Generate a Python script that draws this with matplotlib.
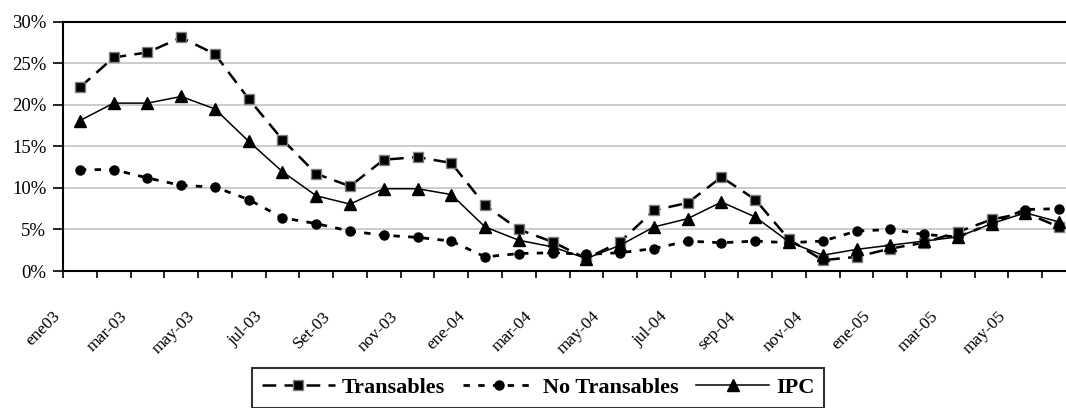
import matplotlib
matplotlib.use("Agg")
import matplotlib.pyplot as plt
import matplotlib.transforms as mtransforms
import numpy as np

months = ["ene03", "feb-03", "mar-03", "abr-03", "may-03", "jun-03", "jul-03", "ago-03",
          "Set-03", "oct-03", "nov-03", "dic-03", "ene-04", "feb-04", "mar-04", "abr-04",
          "may-04", "jun-04", "jul-04", "ago-04", "sep-04", "oct-04", "nov-04", "dic-04",
          "ene-05", "feb-05", "mar-05", "abr-05", "may-05", "jun-05"]

transables = [22.1, 25.7, 26.3, 28.1, 26.1, 20.7, 15.8, 11.7, 10.2, 13.4, 13.7, 13.0,
              7.9, 5.0, 3.5, 1.5, 3.5, 7.3, 8.2, 11.3, 8.6, 3.8, 1.3, 1.7,
              2.7, 3.4, 4.7, 6.2, 7.0, 5.3]
no_transables = [12.2, 12.2, 11.2, 10.3, 10.1, 8.6, 6.4, 5.7, 4.8, 4.3, 4.05, 3.6,
                 1.7, 2.1, 2.2, 2.0, 2.2, 2.7, 3.6, 3.4, 3.6, 3.4, 3.6, 4.8,
                 5.0, 4.4, 4.1, 5.7, 7.4, 7.5]
ipc = [18.1, 20.2, 20.2, 21.0, 19.5, 15.6, 11.95, 9.05, 8.05, 9.9, 9.9, 9.2,
       5.3, 3.7, 2.9, 1.5, 3.1, 5.3, 6.3, 8.3, 6.5, 3.5, 1.9, 2.6,
       3.1, 3.6, 4.1, 5.7, 7.0, 5.9]
yticks = [0, 5, 10, 15, 20, 25, 30]

plt.rcParams['font.family'] = ['Liberation Serif', 'DejaVu Serif']

fig = plt.figure(figsize=(10.66, 4.08), dpi=100)
W, H = 1066, 408
left_px, right_px, top_px, bot_px = 63, 1076, 21.7, 271
ax = fig.add_axes([left_px / W, 1 - bot_px / H, (right_px - left_px) / W, (bot_px - top_px) / H])

x = np.arange(len(months))
ax.plot(x, transables, color='black', lw=1.8, ls=(0, (5.5, 3.3)), marker='s', ms=7,
        markerfacecolor='black', markeredgecolor='#808080', markeredgewidth=1.0,
        label='Transables', zorder=3)
ax.plot(x, no_transables, color='black', lw=2.0, ls=(0, (2.3, 3.0)), marker='o', ms=6.5,
        markerfacecolor='black', markeredgecolor='black', label='No Transables', zorder=3)
ax.plot(x, ipc, color='black', lw=1.1, ls='-', marker='^', ms=8,
        markerfacecolor='black', markeredgecolor='black', label='IPC', zorder=4)

ax.set_xlim(-0.5, len(months) - 0.5)
ax.set_ylim(0, 30)
ax.set_yticks(yticks)
ax.set_yticklabels([f"{v}%" for v in yticks], fontsize=13.5)
for v in yticks[1:-1]:
    ax.axhline(v, color='#c4c4c4', lw=1.2, zorder=1)

# ticks at category boundaries, labels at every 2nd category
ax.set_xticks(np.arange(-0.5, len(months), 1.0), minor=False)
ax.set_xticklabels([])
ax.tick_params(axis='x', which='major', direction='out', length=5, width=1.2, color='black')
ax.set_xticks(x[::2], minor=True)
ax.set_xticklabels(months[::2], minor=True, rotation=45, ha='right', va='top',
                   rotation_mode='anchor', fontsize=12.5)
ax.tick_params(axis='x', which='minor', length=0, pad=27)
offset = mtransforms.ScaledTranslation(-28 / 100, 0, fig.dpi_scale_trans)
for lab in ax.get_xticklabels(minor=True):
    lab.set_transform(lab.get_transform() + offset)
ax.tick_params(axis='y', direction='out', length=7, width=1.2, pad=5)

for s in ['left', 'bottom', 'top', 'right']:
    ax.spines[s].set_color('black')
    ax.spines[s].set_linewidth(1.5)

leg = fig.legend(loc='upper center', bbox_to_anchor=(538 / W, 1 - 367.5 / H), ncol=3,
                 frameon=True, fancybox=False, edgecolor='black', borderaxespad=0,
                 prop={'weight': 'bold', 'size': 16}, handlelength=3.3,
                 columnspacing=0.8, handletextpad=0.3, borderpad=0.45)
leg.get_frame().set_linewidth(1.5)

fig.savefig("out.png", dpi=100)
